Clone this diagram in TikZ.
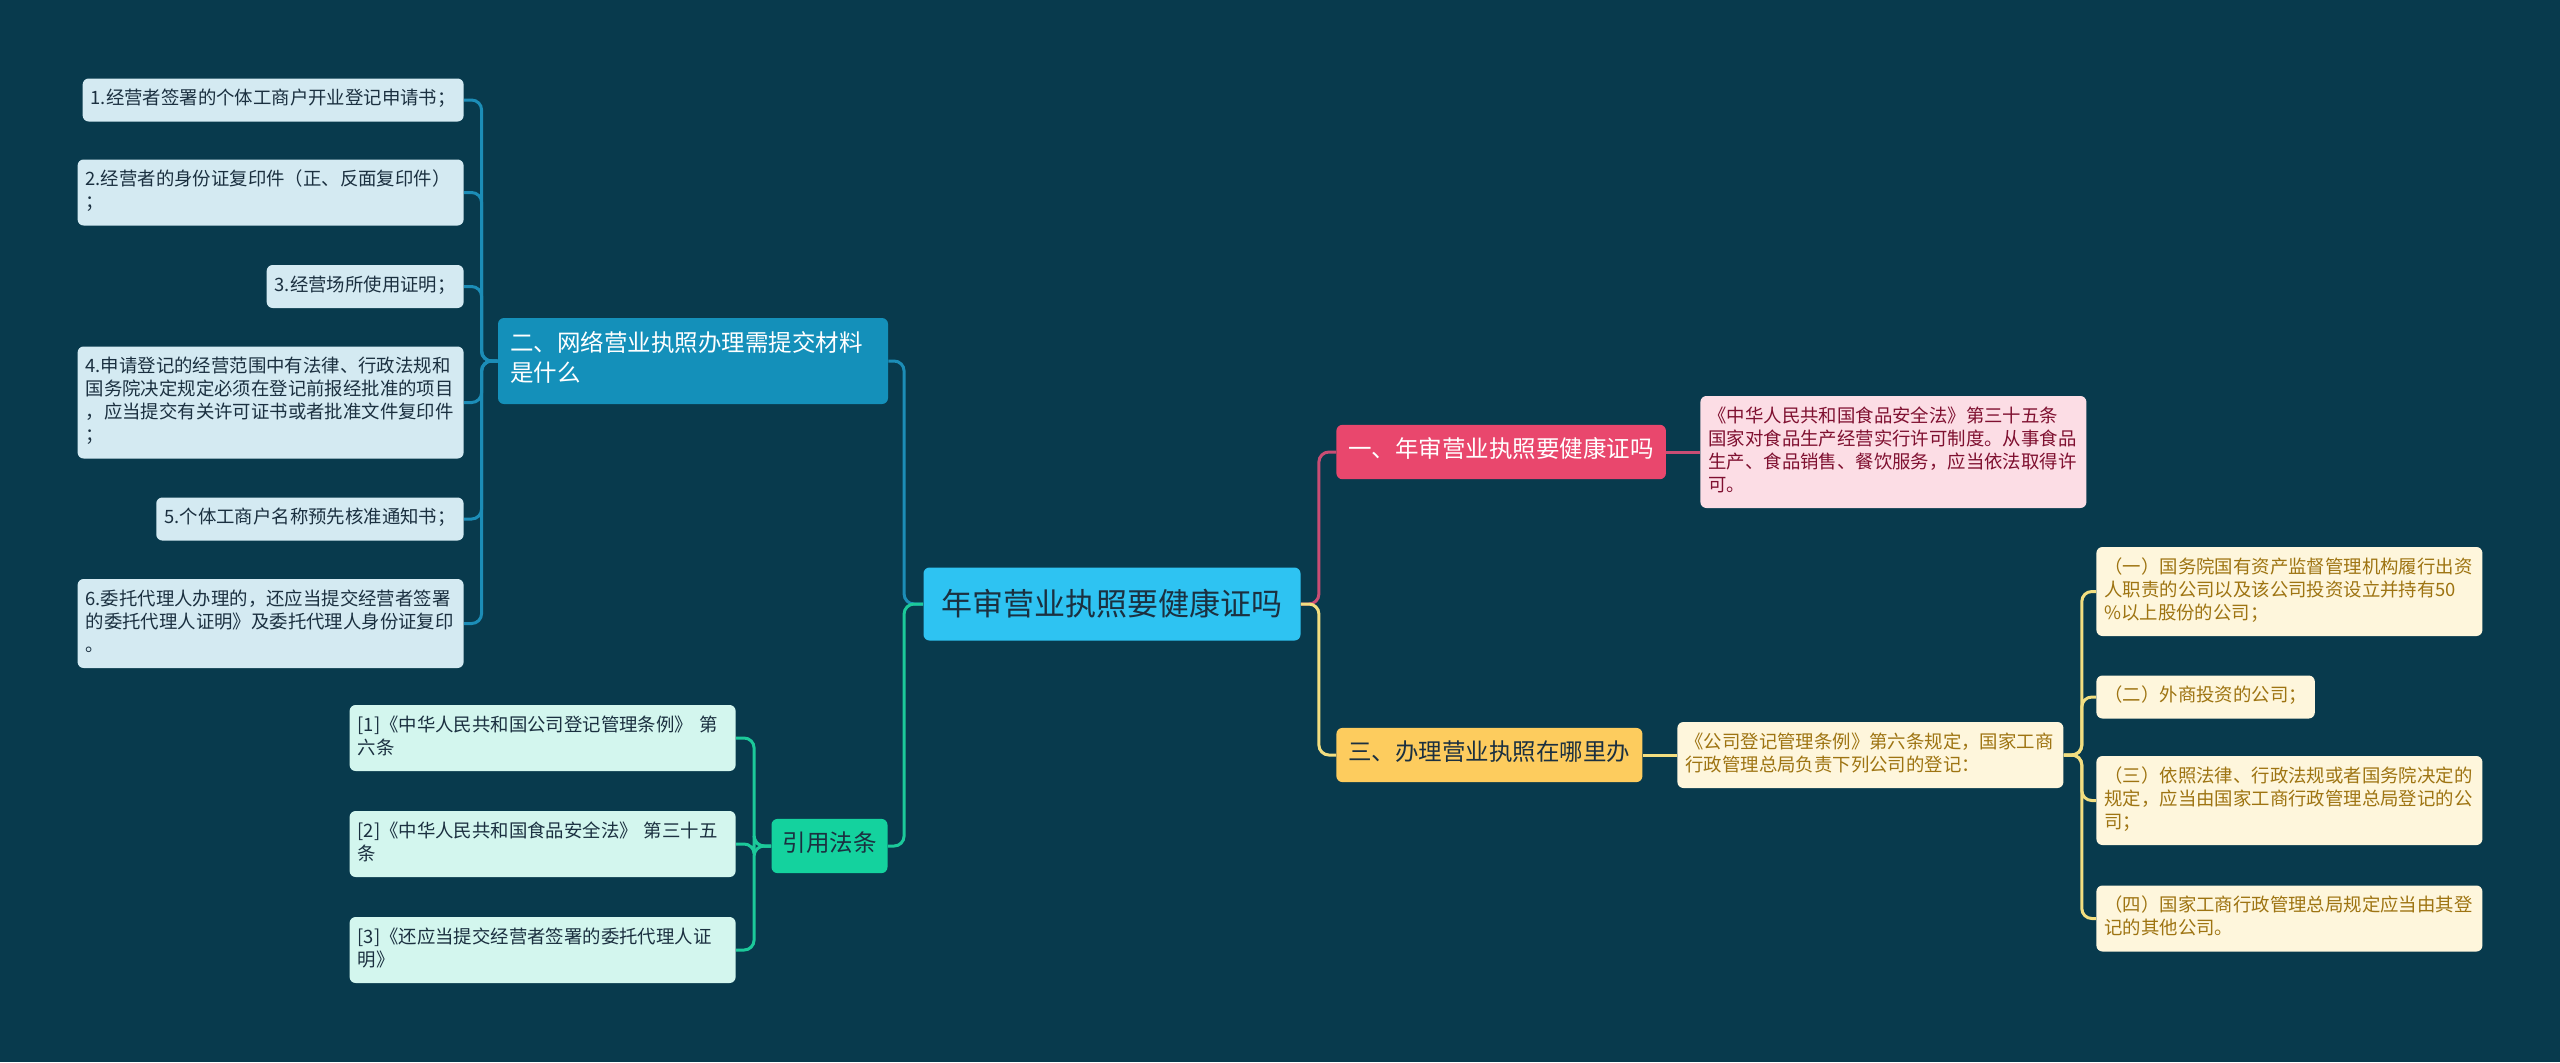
\documentclass[tikz,border=0pt]{standalone}
\usepackage{fontspec}
\setmainfont{Noto Sans CJK SC}
\usetikzlibrary{positioning}
\definecolor{bgc}{HTML}{083A4D}
\definecolor{inktext}{HTML}{1B3040}
\definecolor{rootfill}{HTML}{2EC3F2}
\definecolor{bluefill}{HTML}{1490BA}
\definecolor{blueleaf}{HTML}{D4EAF2}
\definecolor{blueline}{HTML}{1C8DB7}
\definecolor{greenfill}{HTML}{14D29E}
\definecolor{greenleaf}{HTML}{D3F6EE}
\definecolor{greenline}{HTML}{1CC99A}
\definecolor{redfill}{HTML}{E9476D}
\definecolor{pinkleaf}{HTML}{FCDDE5}
\definecolor{pinkline}{HTML}{C94D74}
\definecolor{pinktext}{HTML}{7F1030}
\definecolor{yellowfill}{HTML}{FDCC5E}
\definecolor{yellowleaf}{HTML}{FEF6DC}
\definecolor{yellowline}{HTML}{F2DE80}
\definecolor{goldtext}{HTML}{9E7412}

\begin{document}
\begin{tikzpicture}[
  x=0.5pt, y=-0.5pt,
  root/.style={fill=rootfill, text=inktext, rounded corners=3pt, inner xsep=9pt,
    minimum height=36.5pt, font=\fontsize{15.5}{18}\selectfont},
  topic/.style={rounded corners=3pt, inner xsep=6pt, inner ysep=6.5pt, align=left,
    font=\fontsize{11.75}{14}\selectfont, execute at begin node=\strut, execute at end node=\strut},
  note/.style={rounded corners=3pt, inner xsep=4pt, inner ysep=5pt, align=left, text=inktext,
    font=\fontsize{9.2}{11.5}\selectfont, execute at begin node=\strut, execute at end node=\strut},
  leaf/.style={note, text width=185pt},
  link/.style={line width=1.5pt, rounded corners=5pt}
]
\fill[bgc] (0,0) rectangle (2560,1062);

\node[root] (root) at (1112,604) {年审营业执照要健康证吗};

\node[topic, fill=bluefill, text=white, text width=183pt, minimum height=43pt] (docs) at (693,361)
  {二、网络营业执照办理需提交材料\\是什么};
\node[topic, fill=greenfill, text=inktext, inner xsep=5.5pt] (cite) at (829.5,846) {引用法条};
\node[topic, fill=redfill, text=white, anchor=west] (health) at (1336,452) {一、年审营业执照要健康证吗};
\node[topic, fill=yellowfill, text=inktext, anchor=west] (where) at (1336,755) {三、办理营业执照在哪里办};

\node[note, fill=blueleaf, anchor=east] (d1) at (464,100) {1.经营者签署的个体工商户开业登记申请书；};
\node[leaf, fill=blueleaf, anchor=east] (d2) at (464,192.5) {2.经营者的身份证复印件（正、反面复印件）\\；};
\node[note, fill=blueleaf, anchor=east] (d3) at (464,286.5) {3.经营场所使用证明；};
\node[leaf, fill=blueleaf, anchor=east] (d4) at (464,402.5)
  {4.申请登记的经营范围中有法律、行政法规和\\国务院决定规定必须在登记前报经批准的项目\\，应当提交有关许可证书或者批准文件复印件\\；};
\node[note, fill=blueleaf, anchor=east] (d5) at (464,519) {5.个体工商户名称预先核准通知书；};
\node[leaf, fill=blueleaf, anchor=east] (d6) at (464,623.5)
  {6.委托代理人办理的，还应当提交经营者签署\\的委托代理人证明》及委托代理人身份证复印\\。};

\node[leaf, fill=greenleaf, anchor=east] (s1) at (736,738) {[1]《中华人民共和国公司登记管理条例》 第\\六条};
\node[leaf, fill=greenleaf, anchor=east] (s2) at (736,844) {[2]《中华人民共和国食品安全法》 第三十五\\条};
\node[leaf, fill=greenleaf, anchor=east] (s3) at (736,950) {[3]《还应当提交经营者签署的委托代理人证\\明》};

\node[leaf, fill=pinkleaf, text=pinktext, anchor=west] (law) at (1700,452)
  {《中华人民共和国食品安全法》第三十五条\\国家对食品生产经营实行许可制度。从事食品\\生产、食品销售、餐饮服务，应当依法取得许\\可。};
\node[leaf, fill=yellowleaf, text=goldtext, anchor=west] (rule) at (1677,755)
  {《公司登记管理条例》第六条规定，国家工商\\行政管理总局负责下列公司的登记：};

\node[leaf, fill=yellowleaf, text=goldtext, anchor=west] (c1) at (2096,591.5)
  {（一）国务院国有资产监督管理机构履行出资\\人职责的公司以及该公司投资设立并持有50\\\%以上股份的公司；};
\node[note, fill=yellowleaf, text=goldtext, anchor=west] (c2) at (2096,697) {（二）外商投资的公司；};
\node[leaf, fill=yellowleaf, text=goldtext, anchor=west] (c3) at (2096,800.5)
  {（三）依照法律、行政法规或者国务院决定的\\规定，应当由国家工商行政管理总局登记的公\\司；};
\node[leaf, fill=yellowleaf, text=goldtext, anchor=west] (c4) at (2096,918.5)
  {（四）国家工商行政管理总局规定应当由其登\\记的其他公司。};

\draw[link, blueline] (root.west) -- ++(-19,0) |- (docs.east);
\draw[link, greenline] (root.west) -- ++(-19,0) |- (cite.east);
\foreach \i in {1,...,6}
  \draw[link, blueline] (docs.west) -- ++(-16,0) |- (d\i.east);
\foreach \i in {1,2,3}
  \draw[link, greenline] (cite.west) -- ++(-17,0) |- (s\i.east);

\draw[link, pinkline] (root.east) -- ++(18,0) |- (health.west);
\draw[link, yellowline] (root.east) -- ++(18,0) |- (where.west);
\draw[link, pinkline] (health) -- (law);
\draw[link, yellowline] (where) -- (rule);
\foreach \i in {1,...,4}
  \draw[link, yellowline] (rule.east) -- ++(18,0) |- (c\i.west);
\end{tikzpicture}
\end{document}
